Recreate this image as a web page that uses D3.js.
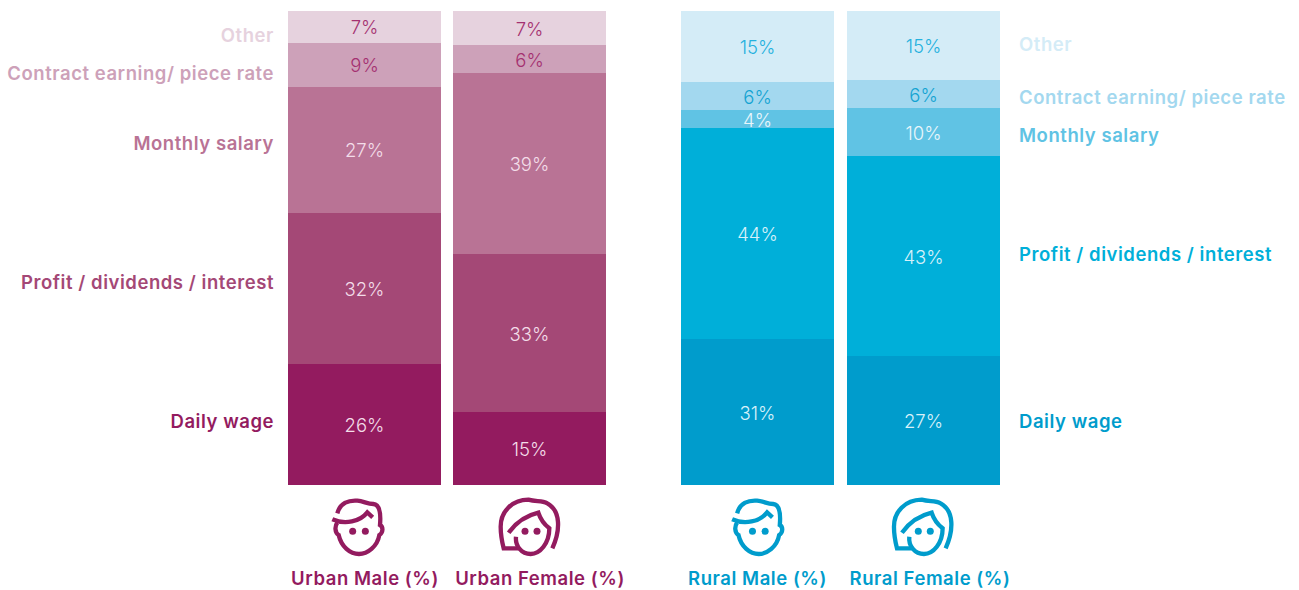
<!DOCTYPE html>
<html>
<head>
<meta charset="utf-8">
<script src="https://cdn.jsdelivr.net/npm/d3@7"></script>
<style>
  html, body { margin: 0; padding: 0; background: #fff; }
  svg { display: block; }
  text { font-family: Inter, "Open Sans", sans-serif; }
  .name { font-size: 18.5px; font-weight: 600; letter-spacing: 0.55px; }
  .pct { font-size: 18.5px; font-weight: 300; }
</style>
</head>
<body>
<script>
// Income sources, bottom of the stack first
var sources = ["Daily wage", "Profit / dividends / interest", "Monthly salary", "Contract earning/ piece rate", "Other"];
var urbanCategories = ["Urban Male (%)", "Urban Female (%)"];
var ruralCategories = ["Rural Male (%)", "Rural Female (%)"];

// Shares
var urbanMale = [25.6, 31.8, 26.6, 9.3, 6.7];
var urbanFemale = [15.4, 33.3, 38.2, 5.9, 7.2];
var ruralMale = [30.8, 44.5, 3.8, 5.9, 15.0];
var ruralFemale = [27.2, 42.2, 10.1, 5.9, 14.6];

// Labels as printed (they don't always round from the heights)
var urbanMaleLabels = ["26%", "32%", "27%", "9%", "7%"];
var urbanFemaleLabels = ["15%", "33%", "39%", "6%", "7%"];
var ruralMaleLabels = ["31%", "44%", "4%", "6%", "15%"];
var ruralFemaleLabels = ["27%", "43%", "10%", "6%", "15%"];

var purples = ["#931b5f", "#a44876", "#b97395", "#cda1b9", "#e6d2de"];
var blues = ["#009ccc", "#00afd9", "#60c3e4", "#a3d8ef", "#d4ecf7"];
var purpleInk = ["#f3dde9", "#f3dde9", "#f3dde9", "#a43070", "#a43070"];
var blueInk = ["#d8f1fa", "#d8f1fa", "#e8f6fb", "#13a3d2", "#25b1de"];

var svgWidth = 1299;
var svgHeight = 590;

var svg = d3.select("body")
  .append("svg")
  .attr("width", svgWidth)
  .attr("height", svgHeight);

var yScale = d3.scaleLinear().domain([0, 100]).range([485, 11]);
var urbanX = d3.scaleBand().domain(urbanCategories).range([288, 606]).paddingInner(12 / 165);
var ruralX = d3.scaleBand().domain(ruralCategories).range([681, 1000]).paddingInner(13 / 166);

// Hand traced icons, in a 3x grid
var malePaths = [
  "M172,100 C180,70 205,60 232,62 C250,63 262,72 280,72 C300,74 303,100 300,135 C310,140 310,158 298,165 C292,200 262,222 237,222 C210,222 184,200 176,165 C164,158 164,138 172,128",
  "M157,118 C195,135 240,125 262,97 L278,112"
];
var femalePaths = [
  "M817,205 C842,150 842,92 802,70 C785,60 770,66 745,59 C695,60 662,95 662,140 C662,165 666,185 671,205 L715,205",
  "M686,158 C710,125 745,105 775,98 C782,120 795,135 808,145 C808,190 780,222 752,222 C725,222 705,198 708,170"
];
var maleEyes = [[218, 154], [256, 154]];
var femaleEyes = [[735, 154], [771, 154]];

function drawColumn(x, name, values, labels, colors, inks) {
  var top = 0;
  var rows = values.map(function(v, i) {
    var d = { v0: top, v1: top + v, label: labels[i], color: colors[i], ink: inks[i] };
    top += v;
    return d;
  });

  var col = svg.append("g").attr("class", "column");

  col.selectAll("rect")
    .data(rows)
    .enter()
    .append("rect")
    .attr("x", x(name))
    .attr("width", x.bandwidth())
    .attr("y", d => yScale(d.v1))
    .attr("height", d => yScale(d.v0) - yScale(d.v1))
    .attr("shape-rendering", "crispEdges")
    .attr("fill", d => d.color);

  col.selectAll("text")
    .data(rows)
    .enter()
    .append("text")
    .attr("class", "pct")
    .attr("x", x(name) + x.bandwidth() / 2)
    .attr("y", d => (yScale(d.v0) + yScale(d.v1)) / 2 + 7.5)
    .attr("text-anchor", "middle")
    .attr("fill", d => d.ink)
    .text(d => d.label);
}

drawColumn(urbanX, urbanCategories[0], urbanMale, urbanMaleLabels, purples, purpleInk);
drawColumn(urbanX, urbanCategories[1], urbanFemale, urbanFemaleLabels, purples, purpleInk);
drawColumn(ruralX, ruralCategories[0], ruralMale, ruralMaleLabels, blues, blueInk);
drawColumn(ruralX, ruralCategories[1], ruralFemale, ruralFemaleLabels, blues, blueInk);

// Source names on both sides, placed by eye like the original
var leftNameY = [428, 289, 150, 80, 42];
var rightNameY = [428, 261, 142, 104, 51];

svg.selectAll("text.left-name")
  .data(sources)
  .enter()
  .append("text")
  .attr("class", "name left-name")
  .attr("x", 274)
  .attr("y", (d, i) => leftNameY[i])
  .attr("text-anchor", "end")
  .attr("fill", (d, i) => purples[i])
  .text(d => d);

svg.selectAll("text.right-name")
  .data(sources)
  .enter()
  .append("text")
  .attr("class", "name right-name")
  .attr("x", 1019)
  .attr("y", (d, i) => rightNameY[i])
  .attr("fill", (d, i) => blues[i])
  .text(d => d);

// Category names under the columns
function drawCategory(name, cx, color) {
  svg.append("text")
    .attr("class", "name")
    .attr("x", cx)
    .attr("y", 585)
    .attr("text-anchor", "middle")
    .attr("fill", color)
    .text(name);
}
drawCategory(urbanCategories[0], 365, purples[0]);
drawCategory(urbanCategories[1], 540, purples[0]);
drawCategory(ruralCategories[0], 757.5, blues[0]);
drawCategory(ruralCategories[1], 930, blues[0]);

function drawIcon(paths, eyes, tx, color) {
  var g = svg.append("g")
    .attr("transform", "translate(" + tx + ",480) scale(" + (1 / 3) + ")");
  g.selectAll("path")
    .data(paths)
    .enter()
    .append("path")
    .attr("d", d => d)
    .attr("fill", "none")
    .attr("stroke", color)
    .attr("stroke-width", 13);
  g.selectAll("circle")
    .data(eyes)
    .enter()
    .append("circle")
    .attr("cx", d => d[0])
    .attr("cy", d => d[1])
    .attr("r", 10.5)
    .attr("fill", color);
}
drawIcon(malePaths, maleEyes, 280, purples[0]);
drawIcon(femalePaths, femaleEyes, 280, purples[0]);
drawIcon(malePaths, maleEyes, 679.8, blues[0]);
drawIcon(femalePaths, femaleEyes, 673.3, blues[0]);
</script>
</body>
</html>
